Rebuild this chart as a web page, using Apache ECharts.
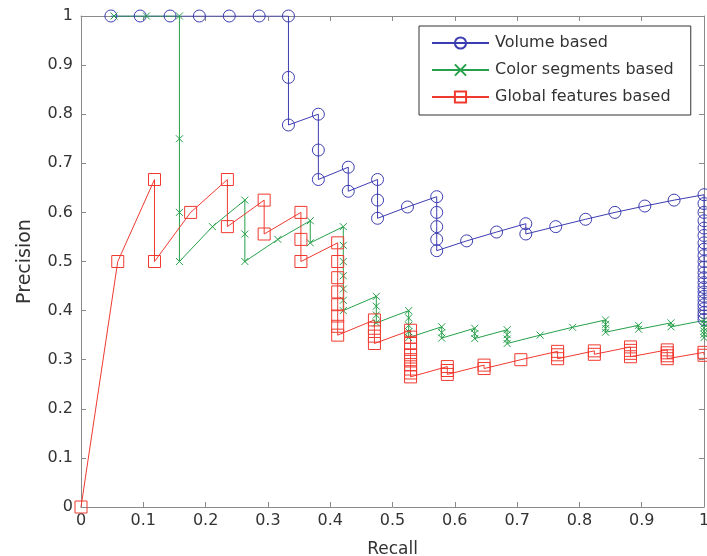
<!DOCTYPE html>
<html>
<head>
<meta charset="utf-8">
<script src="https://cdn.jsdelivr.net/npm/echarts@6/dist/echarts.min.js"></script>
<style>
  html, body { margin: 0; padding: 0; background: #fff; }
  #chart { width: 707px; height: 556px; }
</style>
</head>
<body>
<div id="chart"></div>
<script>
// Volume based (21 relevant items)
const volumeRecall = [
  0.048, 0.095, 0.143, 0.190, 0.238, 0.286, 0.333, 0.333, 0.333, 0.381,
  0.381, 0.381, 0.429, 0.429, 0.476, 0.476, 0.476, 0.524, 0.571, 0.571,
  0.571, 0.571, 0.571, 0.619, 0.667, 0.714, 0.714, 0.762, 0.810, 0.857,
  0.905, 0.952, 1, 1, 1, 1, 1, 1, 1, 1,
  1, 1, 1, 1, 1, 1, 1, 1, 1, 1,
  1, 1, 1, 1, 1
]
const volumePrecision = [
  1, 1, 1, 1, 1, 1, 1, 0.875, 0.778, 0.8,
  0.727, 0.667, 0.692, 0.643, 0.667, 0.625, 0.588, 0.611, 0.632, 0.6,
  0.571, 0.545, 0.522, 0.542, 0.56, 0.577, 0.556, 0.571, 0.586, 0.6,
  0.613, 0.625, 0.636, 0.618, 0.6, 0.583, 0.568, 0.553, 0.538, 0.525,
  0.512, 0.5, 0.488, 0.477, 0.467, 0.457, 0.447, 0.438, 0.429, 0.42,
  0.412, 0.404, 0.396, 0.389, 0.382
]

// Color segments based (19 relevant items)
const colorRecall = [
  0.053, 0.105, 0.158, 0.158, 0.158, 0.158, 0.211, 0.263, 0.263, 0.263,
  0.316, 0.368, 0.368, 0.421, 0.421, 0.421, 0.421, 0.421, 0.421, 0.421,
  0.474, 0.474, 0.474, 0.474, 0.526, 0.526, 0.526, 0.526, 0.526, 0.579,
  0.579, 0.579, 0.632, 0.632, 0.632, 0.684, 0.684, 0.684, 0.684, 0.737,
  0.789, 0.842, 0.842, 0.842, 0.842, 0.895, 0.895, 0.947, 0.947, 1,
  1, 1, 1, 1, 1
]
const colorPrecision = [
  1, 1, 1, 0.75, 0.6, 0.5, 0.571, 0.625, 0.556, 0.5,
  0.545, 0.583, 0.538, 0.571, 0.533, 0.5, 0.471, 0.444, 0.421, 0.4,
  0.429, 0.409, 0.391, 0.375, 0.4, 0.385, 0.37, 0.357, 0.345, 0.367,
  0.355, 0.344, 0.364, 0.353, 0.343, 0.361, 0.351, 0.342, 0.333, 0.35,
  0.366, 0.381, 0.372, 0.364, 0.356, 0.37, 0.362, 0.375, 0.367, 0.38,
  0.373, 0.365, 0.358, 0.352, 0.345
]

// Global features based (17 relevant items)
const globalRecall = [
  0, 0.059, 0.118, 0.118, 0.176, 0.235, 0.235, 0.294, 0.294, 0.353,
  0.353, 0.353, 0.412, 0.412, 0.412, 0.412, 0.412, 0.412, 0.412, 0.412,
  0.471, 0.471, 0.471, 0.471, 0.529, 0.529, 0.529, 0.529, 0.529, 0.529,
  0.529, 0.529, 0.529, 0.529, 0.588, 0.588, 0.588, 0.647, 0.647, 0.706,
  0.765, 0.765, 0.765, 0.824, 0.824, 0.882, 0.882, 0.882, 0.882, 0.941,
  0.941, 0.941, 0.941, 1, 1
]
const globalPrecision = [
  0, 0.5, 0.667, 0.5, 0.6, 0.667, 0.571, 0.625, 0.556, 0.6,
  0.545, 0.5, 0.538, 0.5, 0.467, 0.438, 0.412, 0.389, 0.368, 0.35,
  0.381, 0.364, 0.348, 0.333, 0.36, 0.346, 0.333, 0.321, 0.31, 0.3,
  0.29, 0.281, 0.273, 0.265, 0.286, 0.278, 0.27, 0.289, 0.282, 0.3,
  0.317, 0.31, 0.302, 0.318, 0.311, 0.326, 0.319, 0.313, 0.306, 0.32,
  0.314, 0.308, 0.302, 0.315, 0.309
]

const seriesNames = ['Volume based', 'Color segments based', 'Global features based']

const font = 'DejaVu Sans, sans-serif'
const textColor = '#333'
const frameColor = '#8a8a8a'

const pairs = (xs, ys) => xs.map((x, i) => [x, ys[i]])

// box around the plot, ticks inside on all four sides
const frameAxis = (extra) => Object.assign({
  type: 'value',
  min: 0,
  max: 1,
  interval: 0.1,
  splitLine: { show: false },
  axisLine: { show: true, onZero: false, lineStyle: { color: frameColor, width: 1 } },
  axisTick: { show: true, inside: true, length: 5, lineStyle: { color: frameColor } }
}, extra)

const option = {
  animation: false,
  backgroundColor: '#fff',
  grid: { left: 81, right: 3, top: 16, bottom: 49, outerBoundsMode: 'none' },
  xAxis: [
    frameAxis({
      position: 'bottom',
      name: 'Recall',
      nameLocation: 'middle',
      nameGap: 34,
      nameTextStyle: { fontFamily: font, fontSize: 17, color: textColor },
      axisLabel: { fontFamily: font, fontSize: 16, color: textColor, margin: 6 }
    }),
    frameAxis({ position: 'top', axisLabel: { show: false } })
  ],
  yAxis: [
    frameAxis({
      position: 'left',
      name: 'Precision',
      nameLocation: 'middle',
      nameGap: 46,
      nameTextStyle: { fontFamily: font, fontSize: 19, color: textColor },
      axisLabel: { fontFamily: font, fontSize: 16, color: textColor, margin: 8 }
    }),
    frameAxis({ position: 'right', axisLabel: { show: false } })
  ],
  legend: {
    orient: 'vertical',
    left: 419,
    top: 26,
    padding: [9, 17, 10, 12],
    itemGap: 11,
    itemWidth: 57,
    itemHeight: 14,
    backgroundColor: '#fff',
    borderColor: '#333',
    borderWidth: 1,
    borderRadius: 0,
    textStyle: { fontFamily: font, fontSize: 16, color: textColor, padding: [0, 0, 0, 1] },
    data: seriesNames
  },
  series: [
    {
      name: seriesNames[0],
      type: 'line',
      data: pairs(volumeRecall, volumePrecision),
      symbol: 'circle',
      symbolSize: 12,
      lineStyle: { color: '#3d3db2', width: 1 },
      itemStyle: { color: 'rgba(0,0,0,0)', borderColor: '#3d3db2', borderWidth: 1 }
    },
    {
      name: seriesNames[1],
      type: 'line',
      data: pairs(colorRecall, colorPrecision),
      symbol: 'path://M0,0L10,10M10,0L0,10',
      symbolSize: 7,
      lineStyle: { color: '#26a04a', width: 1 },
      itemStyle: { color: 'rgba(0,0,0,0)', borderColor: '#26a04a', borderWidth: 1 }
    },
    {
      name: seriesNames[2],
      type: 'line',
      data: pairs(globalRecall, globalPrecision),
      symbol: 'rect',
      symbolSize: 12,
      lineStyle: { color: '#f03a30', width: 1 },
      itemStyle: { color: 'rgba(0,0,0,0)', borderColor: '#f03a30', borderWidth: 1 }
    }
  ]
}

const chart = echarts.init(document.getElementById('chart'))
chart.setOption(option)
</script>
</body>
</html>
